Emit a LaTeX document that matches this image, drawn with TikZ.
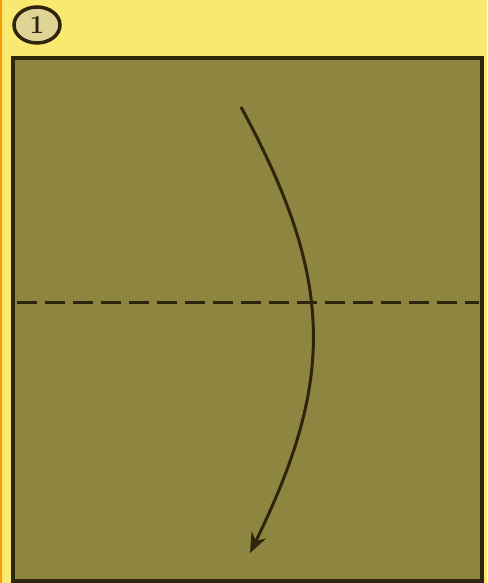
\documentclass[tikz,border=0pt]{standalone}
\usetikzlibrary{shapes.geometric,arrows.meta}
\definecolor{bgyellow}{RGB}{250,233,112}
\definecolor{olivefill}{RGB}{142,133,64}
\definecolor{darkline}{RGB}{45,38,12}
\definecolor{badgefill}{RGB}{222,212,150}
\tikzset{
  badge/.style={ellipse, draw=darkline, line width=3.5pt, fill=badgefill, minimum width=46pt, minimum height=36pt, inner sep=0pt, font=\bfseries\fontsize{26}{26}\selectfont, text=darkline},
  paper/.style={draw=darkline, line width=3.4pt, fill=olivefill},
  foldline/.style={draw=darkline, line width=3pt, dash pattern=on 20pt off 8pt},
  foldarrow/.style={draw=darkline, line width=3pt, -{Stealth[length=20pt,width=16pt]}}
}
\begin{document}
\begin{tikzpicture}[x=1pt,y=-1pt]
  \fill[bgyellow] (0,0) rectangle (487,583);
  \fill[orange!80!yellow] (0,0) rectangle (2,583);
  \useasboundingbox (0,0) rectangle (487,583);
  \node[badge] (n1) at (37,25) {1};
  \draw[paper] (13,58) rectangle (482,581);
  \coordinate (dl) at (17,302);
  \coordinate (dr) at (479,302);
  \draw[foldline] (dl) -- (dr);
  \coordinate (as) at (241,107);
  \coordinate (ae) at (250,553);
  \draw[foldarrow] (as) .. controls (335,280) and (335,380) .. (ae);
\end{tikzpicture}
\end{document}
